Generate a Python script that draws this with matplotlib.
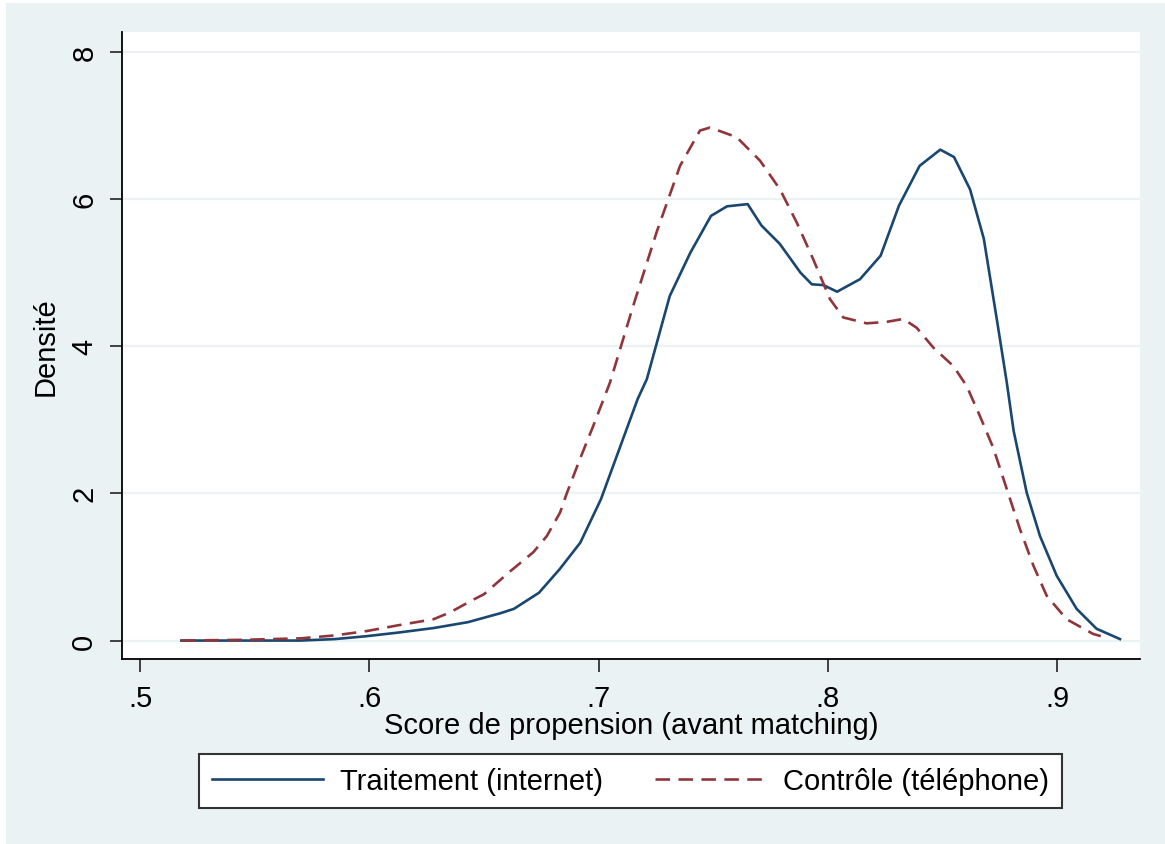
import matplotlib
matplotlib.use('Agg')
import matplotlib.pyplot as plt
from matplotlib.patches import Rectangle

# courbe traitement (internet)
treat_x = [0.518, 0.545, 0.570, 0.585, 0.599, 0.613, 0.628, 0.643, 0.657, 0.663,
           0.674, 0.683, 0.692, 0.701, 0.709, 0.717, 0.721, 0.731, 0.740, 0.749,
           0.756, 0.765, 0.771, 0.779, 0.788, 0.793, 0.798, 0.804, 0.814, 0.823,
           0.831, 0.840, 0.849, 0.855, 0.862, 0.868, 0.874, 0.878, 0.881, 0.8867,
           0.8925, 0.8998, 0.9085, 0.9172, 0.9274]
treat_y = [0.0, 0.0, 0.0, 0.02, 0.06, 0.11, 0.17, 0.25, 0.37, 0.43,
           0.65, 0.97, 1.33, 1.92, 2.60, 3.28, 3.55, 4.68, 5.27, 5.77,
           5.90, 5.93, 5.64, 5.39, 5.00, 4.84, 4.83, 4.74, 4.91, 5.23,
           5.91, 6.45, 6.67, 6.57, 6.13, 5.46, 4.30, 3.51, 2.85, 2.01,
           1.42, 0.88, 0.43, 0.16, 0.02]

# courbe controle (telephone)
ctrl_x = [0.518, 0.545, 0.570, 0.585, 0.599, 0.613, 0.628, 0.635, 0.645, 0.650,
          0.661, 0.6715, 0.6774, 0.6832, 0.6861, 0.6919, 0.6977, 0.705, 0.7151, 0.7253,
          0.7355, 0.7442, 0.7486, 0.7602, 0.7704, 0.7791, 0.7864, 0.7936, 0.8009, 0.8067,
          0.8169, 0.8256, 0.8329, 0.8387, 0.846, 0.8547, 0.8605, 0.8663, 0.8721, 0.878,
          0.8838, 0.8896, 0.8954, 0.9041, 0.9157, 0.919]
ctrl_y = [0.0, 0.01, 0.03, 0.07, 0.13, 0.21, 0.29, 0.38, 0.55, 0.63,
          0.93, 1.20, 1.42, 1.74, 2.00, 2.47, 2.92, 3.51, 4.55, 5.55,
          6.45, 6.93, 6.97, 6.84, 6.52, 6.13, 5.68, 5.18, 4.64, 4.39,
          4.31, 4.33, 4.37, 4.25, 3.98, 3.73, 3.46, 3.05, 2.62, 2.06,
          1.51, 1.02, 0.61, 0.29, 0.09, 0.06]

x_ticks = [0.5, 0.6, 0.7, 0.8, 0.9]
x_tick_labels = ['.5', '.6', '.7', '.8', '.9']
y_ticks = [0, 2, 4, 6, 8]
y_tick_labels = ['0', '2', '4', '6', '8']

labels = ['Traitement (internet)', 'Contrôle (téléphone)']

BG = '#eaf2f3'
NAVY = '#1a476f'
MAROON = '#90353b'

plt.rcParams['font.family'] = ['Liberation Sans', 'DejaVu Sans']
plt.rcParams['font.size'] = 21

fig = plt.figure(figsize=(11.65, 8.45), dpi=100, facecolor='white')
fig.patches.append(Rectangle((6 / 1165, 0), 1 - 6 / 1165, 1 - 4 / 845,
                             transform=fig.transFigure, facecolor=BG,
                             edgecolor='none', zorder=-10))

ax = fig.add_axes([0.1047, 0.2189, 0.8738, 0.7420])
ax.set_facecolor('white')

ax.plot(treat_x, treat_y, color=NAVY, lw=1.9, solid_joinstyle='round',
        label=labels[0])
ax.plot(ctrl_x, ctrl_y, color=MAROON, lw=1.9, dashes=(5.5, 3.2),
        dash_joinstyle='round', label=labels[1])

ax.set_xlim(0.4921, 0.9361)
ax.set_ylim(-0.251, 8.268)
ax.set_xticks(x_ticks)
ax.set_xticklabels(x_tick_labels)
ax.set_yticks(y_ticks)
ax.set_yticklabels(y_tick_labels, rotation=90, va='center')

ax.grid(axis='y', color=BG, lw=1.6)
ax.set_axisbelow(True)
for s in ['top', 'right']:
    ax.spines[s].set_visible(False)
for s in ['left', 'bottom']:
    ax.spines[s].set_color('black')
    ax.spines[s].set_linewidth(1.3)

ax.tick_params(axis='x', length=9, width=1.3, color='#333333', pad=9)
ax.tick_params(axis='y', length=9, width=1.3, color='#333333', pad=8)

ax.set_xlabel('Score de propension (avant matching)', labelpad=-1)
ax.set_ylabel('Densité', labelpad=8)

leg = fig.legend(loc='center', bbox_to_anchor=(0.5412, 0.0746), ncol=2,
                 frameon=True, fancybox=False, framealpha=1, handlelength=3.8,
                 handletextpad=0.6, columnspacing=1.75, borderpad=0.45,
                 borderaxespad=0)
leg.get_frame().set_edgecolor('#333333')
leg.get_frame().set_linewidth(1.5)
leg.get_frame().set_facecolor('white')

fig.savefig('out.png', dpi=100, facecolor=fig.get_facecolor())
